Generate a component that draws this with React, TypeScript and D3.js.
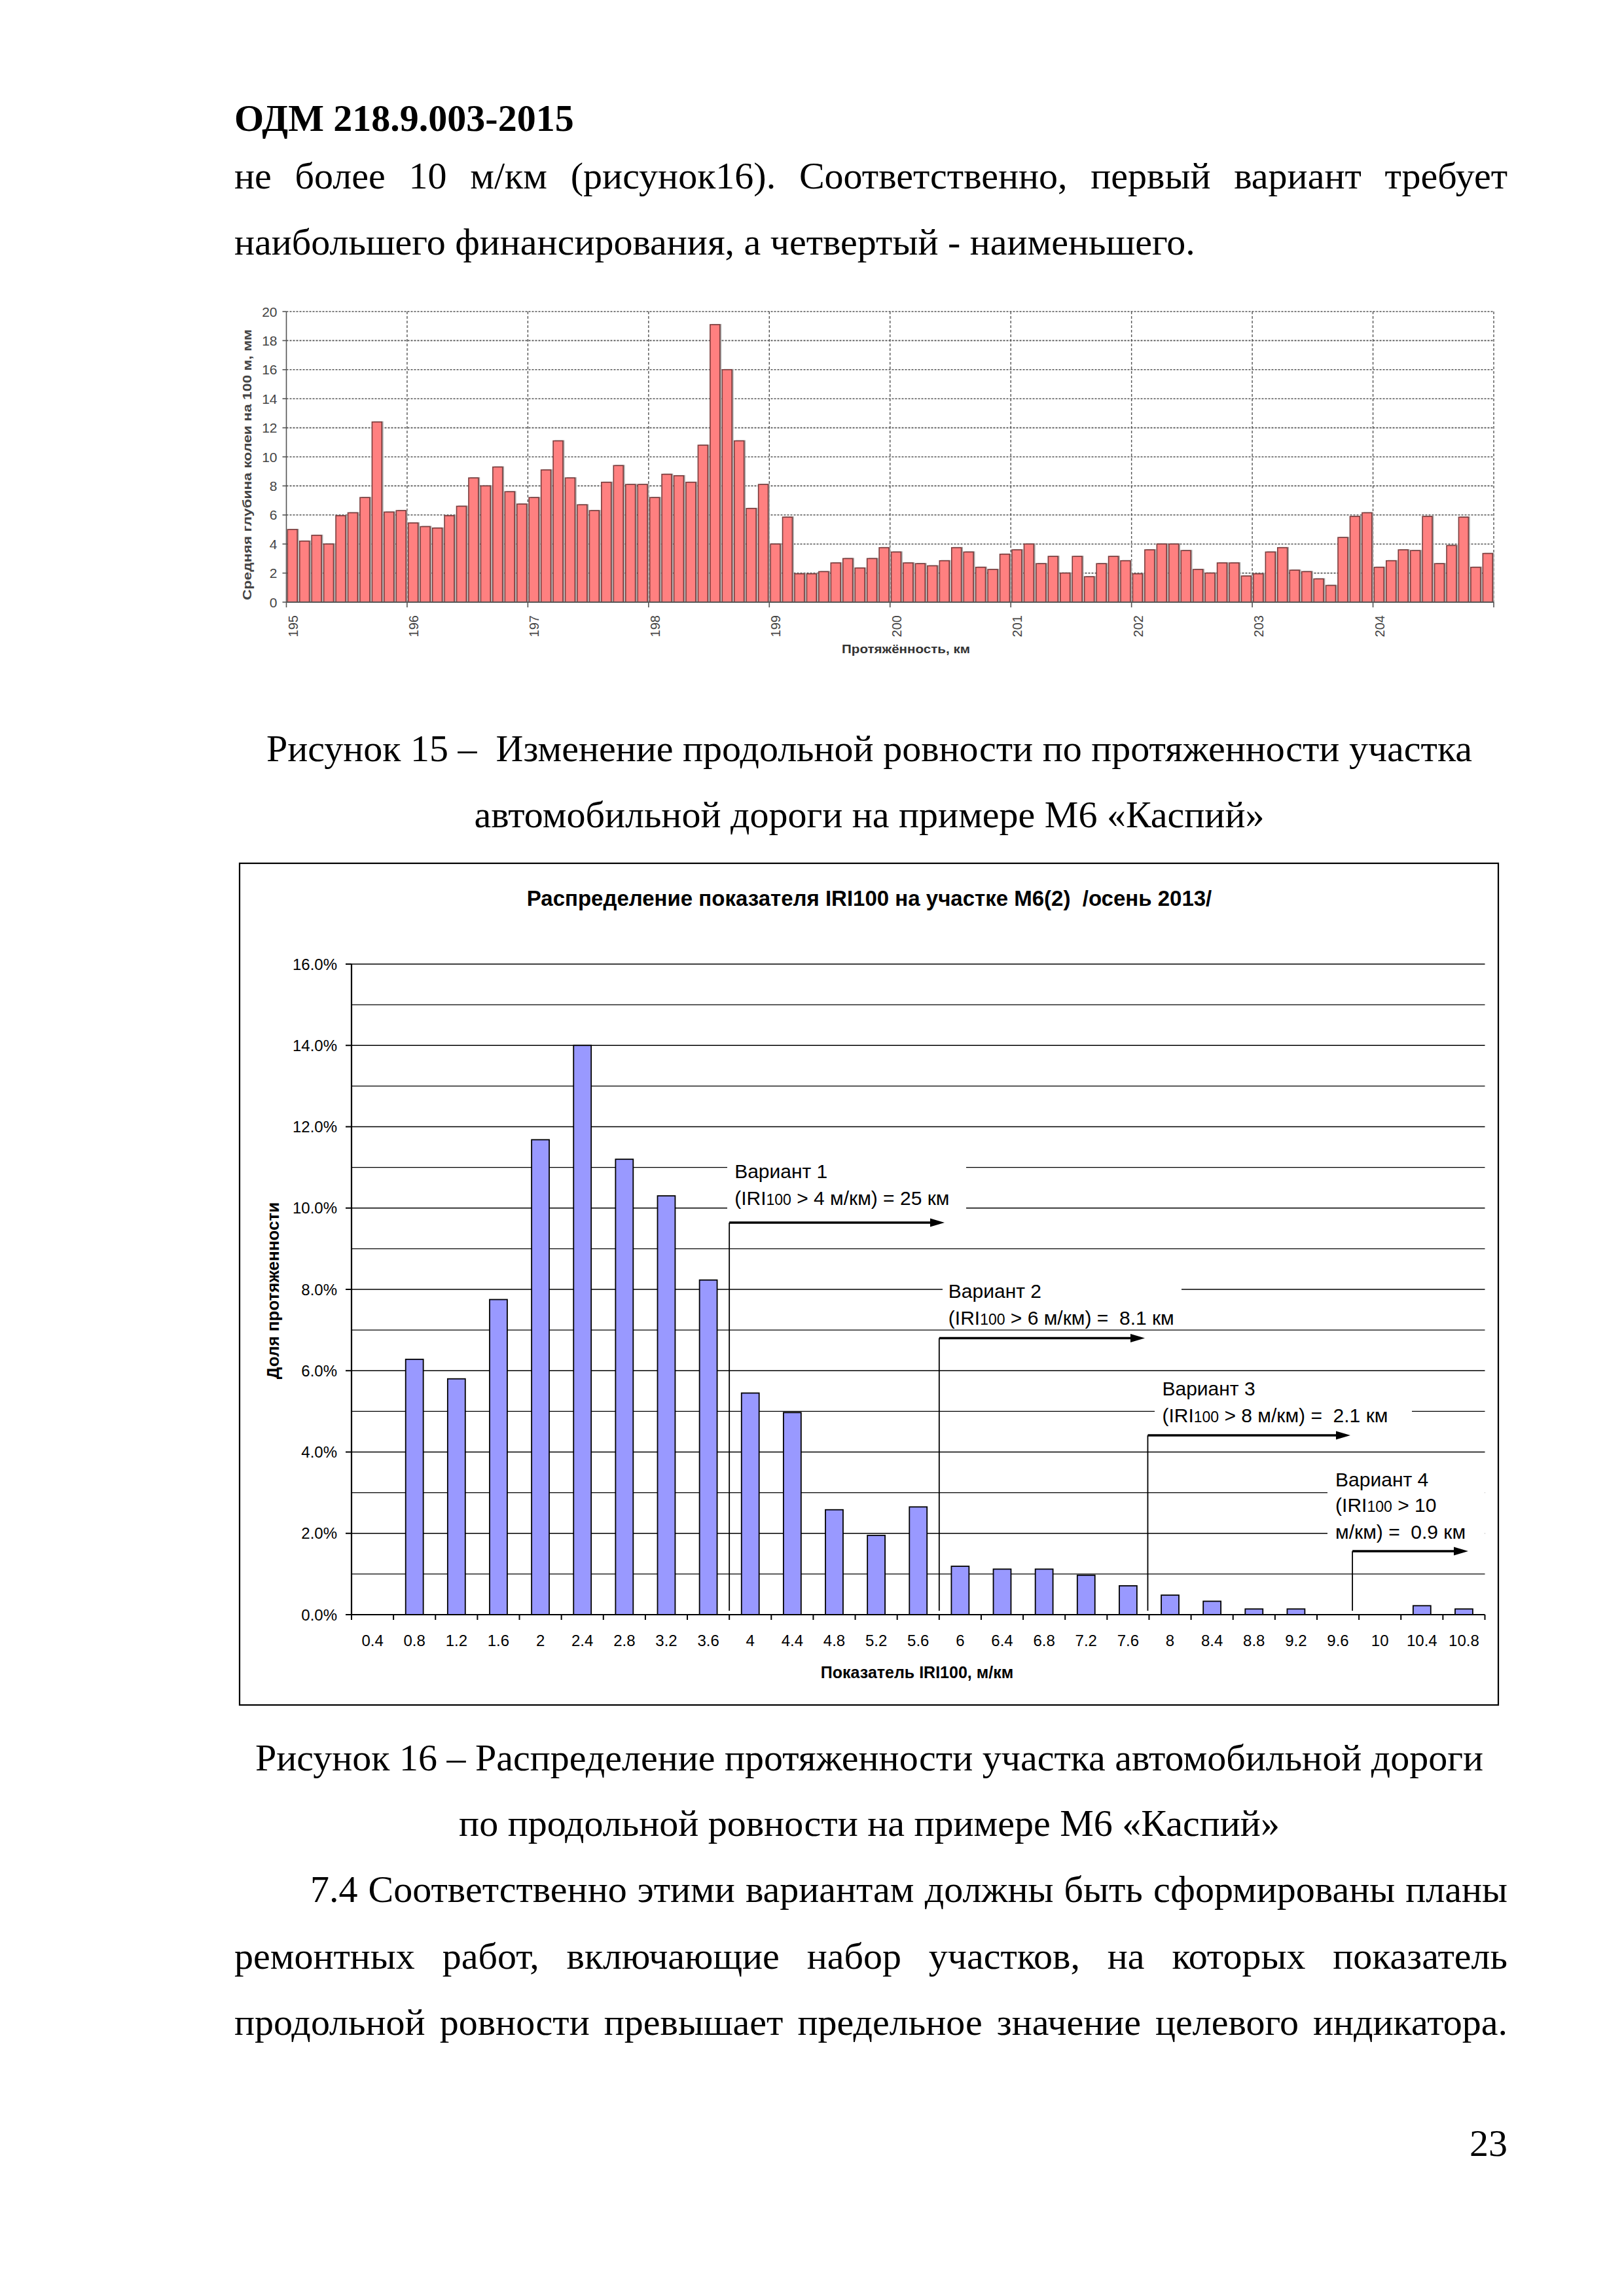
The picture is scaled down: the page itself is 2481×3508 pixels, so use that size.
import React, { useLayoutEffect, useRef, useState } from "react";
import * as d3 from "d3";

// ---------- DATA ----------
// Figure 15: average rut depth per 100 m, km 195..205
const rutStartKm = 195;
const rutStepKm = 0.1;
const rutDepth = [
  5.0, 4.2, 4.6, 4.0, 5.95, 6.15, 7.2, 12.4, 6.2, 6.3,
  5.45, 5.2, 5.1, 5.95, 6.6, 8.55, 8.0, 9.3, 7.6, 6.75,
  7.2, 9.1, 11.1, 8.55, 6.7, 6.3, 8.25, 9.4, 8.1, 8.1,
  7.2, 8.8, 8.7, 8.25, 10.8, 19.1, 16.0, 11.1, 6.45, 8.1,
  4.0, 5.85, 1.95, 1.95, 2.1, 2.7, 3.0, 2.35, 3.0, 3.75,
  3.45, 2.7, 2.65, 2.5, 2.85, 3.75, 3.45, 2.4, 2.25, 3.3,
  3.6, 4.0, 2.65, 3.15, 2.0, 3.15, 1.75, 2.65, 3.15, 2.85,
  1.95, 3.6, 4.0, 4.0, 3.55, 2.25, 2.0, 2.7, 2.7, 1.8,
  1.95, 3.45, 3.75, 2.2, 2.1, 1.6, 1.15, 4.45, 5.9, 6.15,
  2.4, 2.85, 3.6, 3.55, 5.9, 2.65, 3.9, 5.85, 2.4, 3.35,
];
const kmTicks = [195, 196, 197, 198, 199, 200, 201, 202, 203, 204];
const kmGrid = [196, 197, 198, 199, 200, 201, 202, 203, 204, 205];
const rutTicks = [0, 2, 4, 6, 8, 10, 12, 14, 16, 18, 20];

// Figure 16: distribution of IRI100
const iriCats = [
  "0.4", "0.8", "1.2", "1.6", "2", "2.4", "2.8", "3.2", "3.6", "4", "4.4", "4.8", "5.2", "5.6",
  "6", "6.4", "6.8", "7.2", "7.6", "8", "8.4", "8.8", "9.2", "9.6", "10", "10.4", "10.8",
];
const iriShare = [
  0, 6.28, 5.8, 7.75, 11.68, 14.0, 11.2, 10.3, 8.23, 5.45, 4.97, 2.58, 1.95, 2.65,
  1.19, 1.12, 1.12, 0.97, 0.71, 0.48, 0.33, 0.14, 0.14, 0, 0, 0.22, 0.14,
];
const shareMajorTicks = [0, 2, 4, 6, 8, 10, 12, 14, 16];
const shareMinorGrid = [1, 2, 3, 4, 5, 6, 7, 8, 9, 10, 11, 12, 13, 14, 15, 16];

const variantNames = ["Вариант 1", "Вариант 2", "Вариант 3", "Вариант 4"];
const variantThresholdCat = ["4", "6", "8", "10"];
const variantLines: string[][][] = [
  [["(IRI", "100", " > 4 м/км) = 25 км"]],
  [["(IRI", "100", " > 6 м/км) =  8.1 км"]],
  [["(IRI", "100", " > 8 м/км) =  2.1 км"]],
  [["(IRI", "100", " > 10"], ["м/км) =  0.9 км", "", ""]],
];

// ---------- TEXT ----------
const SERIF = "'Liberation Serif', 'Times New Roman', serif";
const SANS = "'Liberation Sans', Arial, sans-serif";
const NARROW = "'Liberation Sans Narrow', 'Arial Narrow', 'Liberation Sans', Arial, sans-serif";
const TEXT_RIGHT = 2303;

function Justified({ x, y, width, text, size = 58 }: any) {
  const ref = useRef<SVGTextElement>(null);
  const [ws, setWs] = useState(0);
  useLayoutEffect(() => {
    const el = ref.current;
    if (!el) return;
    el.style.wordSpacing = "0px";
    const w = el.getComputedTextLength();
    const spaces = (text.match(/ /g) || []).length;
    const v = spaces ? (width - w) / spaces : 0;
    el.style.wordSpacing = v + "px";
    setWs(v);
  }, [text, width]);
  return (
    <text ref={ref} x={x} y={y} fontFamily={SERIF} fontSize={size} fill="#000" style={{ wordSpacing: ws + "px", whiteSpace: "pre" }}>
      {text}
    </text>
  );
}

// ---------- FIGURE 15 ----------
function RutChart() {
  const L = 437.5, R = 2282, T = 476, B = 920;
  const x = d3.scaleLinear().domain([195, 205]).range([L, R]);
  const y = d3.scaleLinear().domain([0, 20]).range([B, T]);
  const slot = x(rutStartKm + rutStepKm) - x(rutStartKm);
  const bw = slot - 3.6;
  return (
    <g>
      {rutTicks.filter((t) => t > 0).map((t) => (
        <line key={"h" + t} x1={L} x2={R} y1={y(t)} y2={y(t)} stroke="#555" strokeWidth={1.6} strokeDasharray="3,2" />
      ))}
      {kmGrid.map((k) => (
        <line key={"v" + k} x1={x(k)} x2={x(k)} y1={T} y2={B} stroke="#555" strokeWidth={1.4} strokeDasharray="4,3" />
      ))}
      {rutDepth.map((v, i) => {
        const x0 = x(rutStartKm + i * rutStepKm) + 1.8;
        return (
          <g key={i}>
            <rect x={x0 + 2.4} y={y(v) - 1} width={bw} height={B - y(v) + 1} fill="#a8a8a8" />
            <rect x={x0} y={y(v)} width={bw} height={B - y(v)} fill="#FF8080" stroke="#7a3c3c" strokeWidth={1.6} />
          </g>
        );
      })}
      <line x1={L} x2={L} y1={T} y2={B} stroke="#555" strokeWidth={1.6} />
      <line x1={L} x2={R} y1={B} y2={B} stroke="#555" strokeWidth={2.2} />
      {rutTicks.map((t) => (
        <g key={"yt" + t}>
          <line x1={L - 6} x2={L} y1={y(t)} y2={y(t)} stroke="#555" strokeWidth={1.6} />
          <text x={L - 14} y={y(t)} dy="0.36em" textAnchor="end" fontFamily={NARROW} fontSize={21} fill="#444">
            {t}
          </text>
        </g>
      ))}
      {kmTicks.concat([205]).map((k) => (
        <line key={"xt" + k} x1={x(k)} x2={x(k)} y1={B} y2={B + 8} stroke="#555" strokeWidth={1.6} />
      ))}
      {kmTicks.map((k) => (
        <text
          key={"xl" + k}
          transform={`translate(${x(k) + 17},${B + 20}) rotate(-90)`}
          textAnchor="end"
          fontFamily={NARROW}
          fontSize={20}
          fill="#444"
        >
          {k}
        </text>
      ))}
      <text
        transform={`translate(384,${(T + B) / 2 + 12}) rotate(-90)`}
        textAnchor="middle"
        fontFamily={SANS}
        fontWeight="bold"
        fontSize={19}
        fill="#444"
        textLength={414}
        lengthAdjust="spacingAndGlyphs"
      >
        Средняя глубина колеи на 100 м, мм
      </text>
      <text x={1384} y={998} textAnchor="middle" fontFamily={SANS} fontWeight="bold" fontSize={19} fill="#333" textLength={196} lengthAdjust="spacingAndGlyphs">
        Протяжённость, км
      </text>
    </g>
  );
}

// ---------- FIGURE 16 ----------
function IriChart() {
  const L = 537, R = 2268.5, T = 1473, B = 2467;
  const x = d3.scaleBand<string>().domain(iriCats).range([L, R]).padding(0);
  const y = d3.scaleLinear().domain([0, 16]).range([B, T]);
  const bw = x.bandwidth() * 0.42;
  const fmt = d3.format(".1f");

  const layout = [
    { dxV: 0, arrowY: 1868, tip: 1443, textDx: 8, lineY: [-68, -27], box: [1111, 1476, 1762, 1853] },
    { dxV: 0, arrowY: 2044.5, tip: 1749, textDx: 14, lineY: [-62, -21], box: [1440, 1805, 1942, 2002] },
    { dxV: -2, arrowY: 2193, tip: 2063, textDx: 22, lineY: [-61, -20], box: [1764, 2157, 2138, 2186] },
    { dxV: -10, arrowY: 2370, tip: 2243, textDx: -26, lineY: [-99, -60, -19], box: [2028, R, 2243, 2356] },
  ];

  return (
    <g>
      <rect x={366} y={1319} width={2289 - 366} height={2605 - 1319} fill="#fff" stroke="#000" strokeWidth={2.2} />
      <text x={1328} y={1384} textAnchor="middle" fontFamily={SANS} fontWeight="bold" fontSize={33} fill="#000" style={{ whiteSpace: "pre" }}>
        {"Распределение показателя IRI100 на участке М6(2)  /осень 2013/"}
      </text>
      {shareMinorGrid.map((t) => (
        <line key={"g" + t} x1={L} x2={R} y1={y(t)} y2={y(t)} stroke="#000" strokeWidth={t % 2 === 0 ? 1.6 : 1.2} />
      ))}
      {layout.map((l, i) => (
        <rect key={"wb" + i} x={l.box[0]} y={l.box[2]} width={l.box[1] - l.box[0]} height={l.box[3] - l.box[2]} fill="#fff" />
      ))}
      {iriCats.map((c, i) =>
        iriShare[i] > 0 ? (
          <rect
            key={c}
            x={(x(c) as number) + x.bandwidth() / 2 - bw / 2}
            y={y(iriShare[i])}
            width={bw}
            height={B - y(iriShare[i])}
            fill="#9999FF"
            stroke="#000"
            strokeWidth={1.8}
          />
        ) : null
      )}
      <line x1={L} x2={L} y1={T} y2={B} stroke="#000" strokeWidth={2.2} />
      <line x1={L} x2={R} y1={B} y2={B} stroke="#000" strokeWidth={2.2} />
      {shareMajorTicks.map((t) => (
        <g key={"yt" + t}>
          <line x1={L - 9} x2={L} y1={y(t)} y2={y(t)} stroke="#000" strokeWidth={2} />
          <text x={L - 22} y={y(t)} dy="0.36em" textAnchor="end" fontFamily={SANS} fontSize={24} fill="#000">
            {fmt(t) + "%"}
          </text>
        </g>
      ))}
      {iriCats.map((c) => (
        <line key={"xt" + c} x1={x(c) as number} x2={x(c) as number} y1={B} y2={B + 8} stroke="#000" strokeWidth={2} />
      ))}
      <line x1={R} x2={R} y1={B} y2={B + 8} stroke="#000" strokeWidth={2} />
      {iriCats.map((c) => (
        <text key={"xl" + c} x={(x(c) as number) + x.bandwidth() / 2} y={2515} textAnchor="middle" fontFamily={SANS} fontSize={24} fill="#000">
          {c}
        </text>
      ))}
      <text x={1401} y={2564} textAnchor="middle" fontFamily={SANS} fontWeight="bold" fontSize={25} fill="#000">
        Показатель IRI100, м/км
      </text>
      <text transform={`translate(426,1972) rotate(-90)`} textAnchor="middle" fontFamily={SANS} fontWeight="bold" fontSize={26} fill="#000">
        Доля протяженности
      </text>
      {variantNames.map((name, i) => {
        const l = layout[i];
        const vx = (x(variantThresholdCat[i]) as number) + l.dxV;
        const tx = vx + l.textDx;
        const ay = l.arrowY;
        return (
          <g key={name}>
            <line x1={vx} x2={vx} y1={ay} y2={B - 6} stroke="#000" strokeWidth={1.8} />
            <line x1={vx} x2={l.tip - 18} y1={ay} y2={ay} stroke="#000" strokeWidth={3.4} />
            <polygon points={`${l.tip},${ay} ${l.tip - 22},${ay - 6.5} ${l.tip - 22},${ay + 6.5}`} fill="#000" />
            <text x={tx} y={ay + l.lineY[0]} fontFamily={SANS} fontSize={30} fill="#000">
              {name}
            </text>
            {variantLines[i].map((parts, j) => (
              <text key={j} x={tx} y={ay + l.lineY[j + 1]} fontFamily={SANS} fontSize={30} fill="#000" style={{ whiteSpace: "pre" }}>
                <tspan>{parts[0]}</tspan>
                {parts[1] ? <tspan fontSize={23}>{parts[1]}</tspan> : null}
                {parts[2] ? <tspan>{parts[2]}</tspan> : null}
              </text>
            ))}
          </g>
        );
      })}
    </g>
  );
}

export default function App() {
  return (
    <svg
      width={2481}
      height={3508}
      viewBox="0 0 2481 3508"
      style={{ position: "absolute", left: 0, top: 0, display: "block", background: "#fff" }}
    >
      <rect x={0} y={0} width={2481} height={3508} fill="#fff" />
      <text x={358} y={200} fontFamily={SERIF} fontWeight="bold" fontSize={58} fill="#000">
        ОДМ 218.9.003-2015
      </text>
      <Justified x={358} y={288} width={TEXT_RIGHT - 358} text="не более 10 м/км (рисунок16). Соответственно, первый вариант требует" />
      <text x={358} y={389} fontFamily={SERIF} fontSize={58} fill="#000">
        наибольшего финансирования, а четвертый - наименьшего.
      </text>

      <RutChart />

      <text x={1328} y={1163} textAnchor="middle" fontFamily={SERIF} fontSize={58} fill="#000" style={{ whiteSpace: "pre" }}>
        {"Рисунок 15 –  Изменение продольной ровности по протяженности участка"}
      </text>
      <text x={1328} y={1264} textAnchor="middle" fontFamily={SERIF} fontSize={58} fill="#000">
        автомобильной дороги на примере М6 «Каспий»
      </text>

      <IriChart />

      <text x={1328} y={2705} textAnchor="middle" fontFamily={SERIF} fontSize={58} fill="#000">
        Рисунок 16 – Распределение протяженности участка автомобильной дороги
      </text>
      <text x={1328} y={2805} textAnchor="middle" fontFamily={SERIF} fontSize={58} fill="#000">
        по продольной ровности на примере М6 «Каспий»
      </text>
      <Justified x={474} y={2906} width={TEXT_RIGHT - 474} text="7.4 Соответственно этими вариантам должны быть сформированы планы" />
      <Justified x={358} y={3008} width={TEXT_RIGHT - 358} text="ремонтных работ, включающие набор участков, на которых показатель" />
      <Justified x={358} y={3109} width={TEXT_RIGHT - 358} text="продольной ровности превышает предельное значение целевого индикатора." />
      <text x={TEXT_RIGHT} y={3294} textAnchor="end" fontFamily={SERIF} fontSize={58} fill="#000">
        23
      </text>
    </svg>
  );
}
